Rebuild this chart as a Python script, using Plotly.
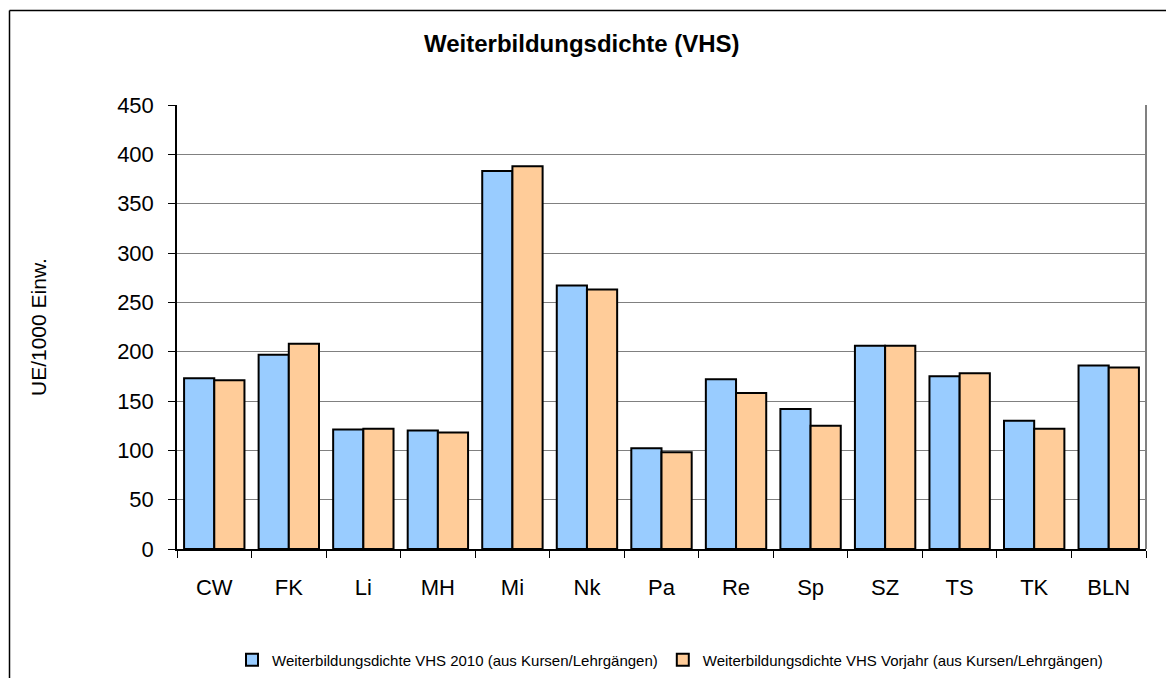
import plotly.graph_objects as go

bezirke = ["CW", "FK", "Li", "MH", "Mi", "Nk", "Pa", "Re", "Sp", "SZ", "TS", "TK", "BLN"]
vhs_2010 = [173, 197, 121, 120, 383, 267, 102, 172, 142, 206, 175, 130, 186]
vhs_vorjahr = [171, 208, 122, 118, 388, 263, 98, 158, 125, 206, 178, 122, 184]

name_2010 = "Weiterbildungsdichte VHS 2010 (aus Kursen/Lehrgängen)"
name_vorjahr = "Weiterbildungsdichte VHS Vorjahr (aus Kursen/Lehrgängen)"

FONT = "Liberation Sans, Arial, sans-serif"

# page body has an 8px margin, so the figure is drawn 8px smaller
FIG_W, FIG_H = 1166, 670
OFF = 8

fig = go.Figure()
fig.add_trace(go.Bar(x=bezirke, y=vhs_2010, name=name_2010,
                     marker=dict(color="#99CCFF", line=dict(color="#000000", width=2))))
fig.add_trace(go.Bar(x=bezirke, y=vhs_vorjahr, name=name_vorjahr,
                     marker=dict(color="#FFCC99", line=dict(color="#000000", width=2))))

# plot area in screen pixels: x 177..1146, y 105..549
L, R, T, B = 177 - OFF, 1146 - OFF, 105 - OFF, 549 - OFF
W, H = R - L, B - T

def px_x(p):
    return (p - OFF - L) / W

def px_y(p):
    return (B - (p - OFF)) / H

fig.update_layout(
    width=FIG_W, height=FIG_H,
    margin=dict(l=L, r=FIG_W - R, t=T, b=FIG_H - B, pad=0, autoexpand=False),
    paper_bgcolor="white", plot_bgcolor="white",
    font=dict(family=FONT, color="#000000"),
    barmode="group", bargap=0.19, bargroupgap=0,
    showlegend=True,
    legend=dict(orientation="h", x=px_x(670), xanchor="center", y=px_y(660), yanchor="middle",
                font=dict(size=15, family=FONT), itemwidth=30, tracegroupgap=0,
                bgcolor="rgba(0,0,0,0)"),
    xaxis=dict(showline=True, linecolor="#000000", linewidth=1.5,
               ticks="outside", ticklen=7, tickcolor="#000000", tickson="boundaries",
               tickfont=dict(size=22), ticklabelstandoff=18, showgrid=False),
    yaxis=dict(range=[0, 450], dtick=50, showline=True, linecolor="#000000", linewidth=1.5,
               ticks="outside", ticklen=7, tickcolor="#000000",
               tickfont=dict(size=22), ticklabelstandoff=10,
               showgrid=True, gridcolor="#808080", gridwidth=1, zeroline=False),
    annotations=[
        dict(text="<b>Weiterbildungsdichte (VHS)</b>", xref="paper", yref="paper",
             x=px_x(582), y=px_y(43), xanchor="center", yanchor="middle",
             showarrow=False, font=dict(size=24, family=FONT)),
        dict(text="UE/1000 Einw.", xref="paper", yref="paper", textangle=-90,
             x=px_x(38), y=px_y(327), xanchor="center", yanchor="middle",
             showarrow=False, font=dict(size=21, family=FONT)),
    ],
    shapes=[
        # outer chart frame (top and left visible)
        dict(type="line", xref="paper", yref="paper", x0=px_x(9.5), x1=px_x(1200),
             y0=px_y(10.5), y1=px_y(10.5), line=dict(color="#000000", width=1.5)),
        dict(type="line", xref="paper", yref="paper", x0=px_x(9.5), x1=px_x(9.5),
             y0=px_y(10.5), y1=px_y(700), line=dict(color="#000000", width=1.5)),
        # plot area right border
        dict(type="line", xref="paper", yref="paper", x0=1, x1=1, y0=0, y1=1,
             line=dict(color="#808080", width=2)),
    ],
)

fig.write_html("out.html")
